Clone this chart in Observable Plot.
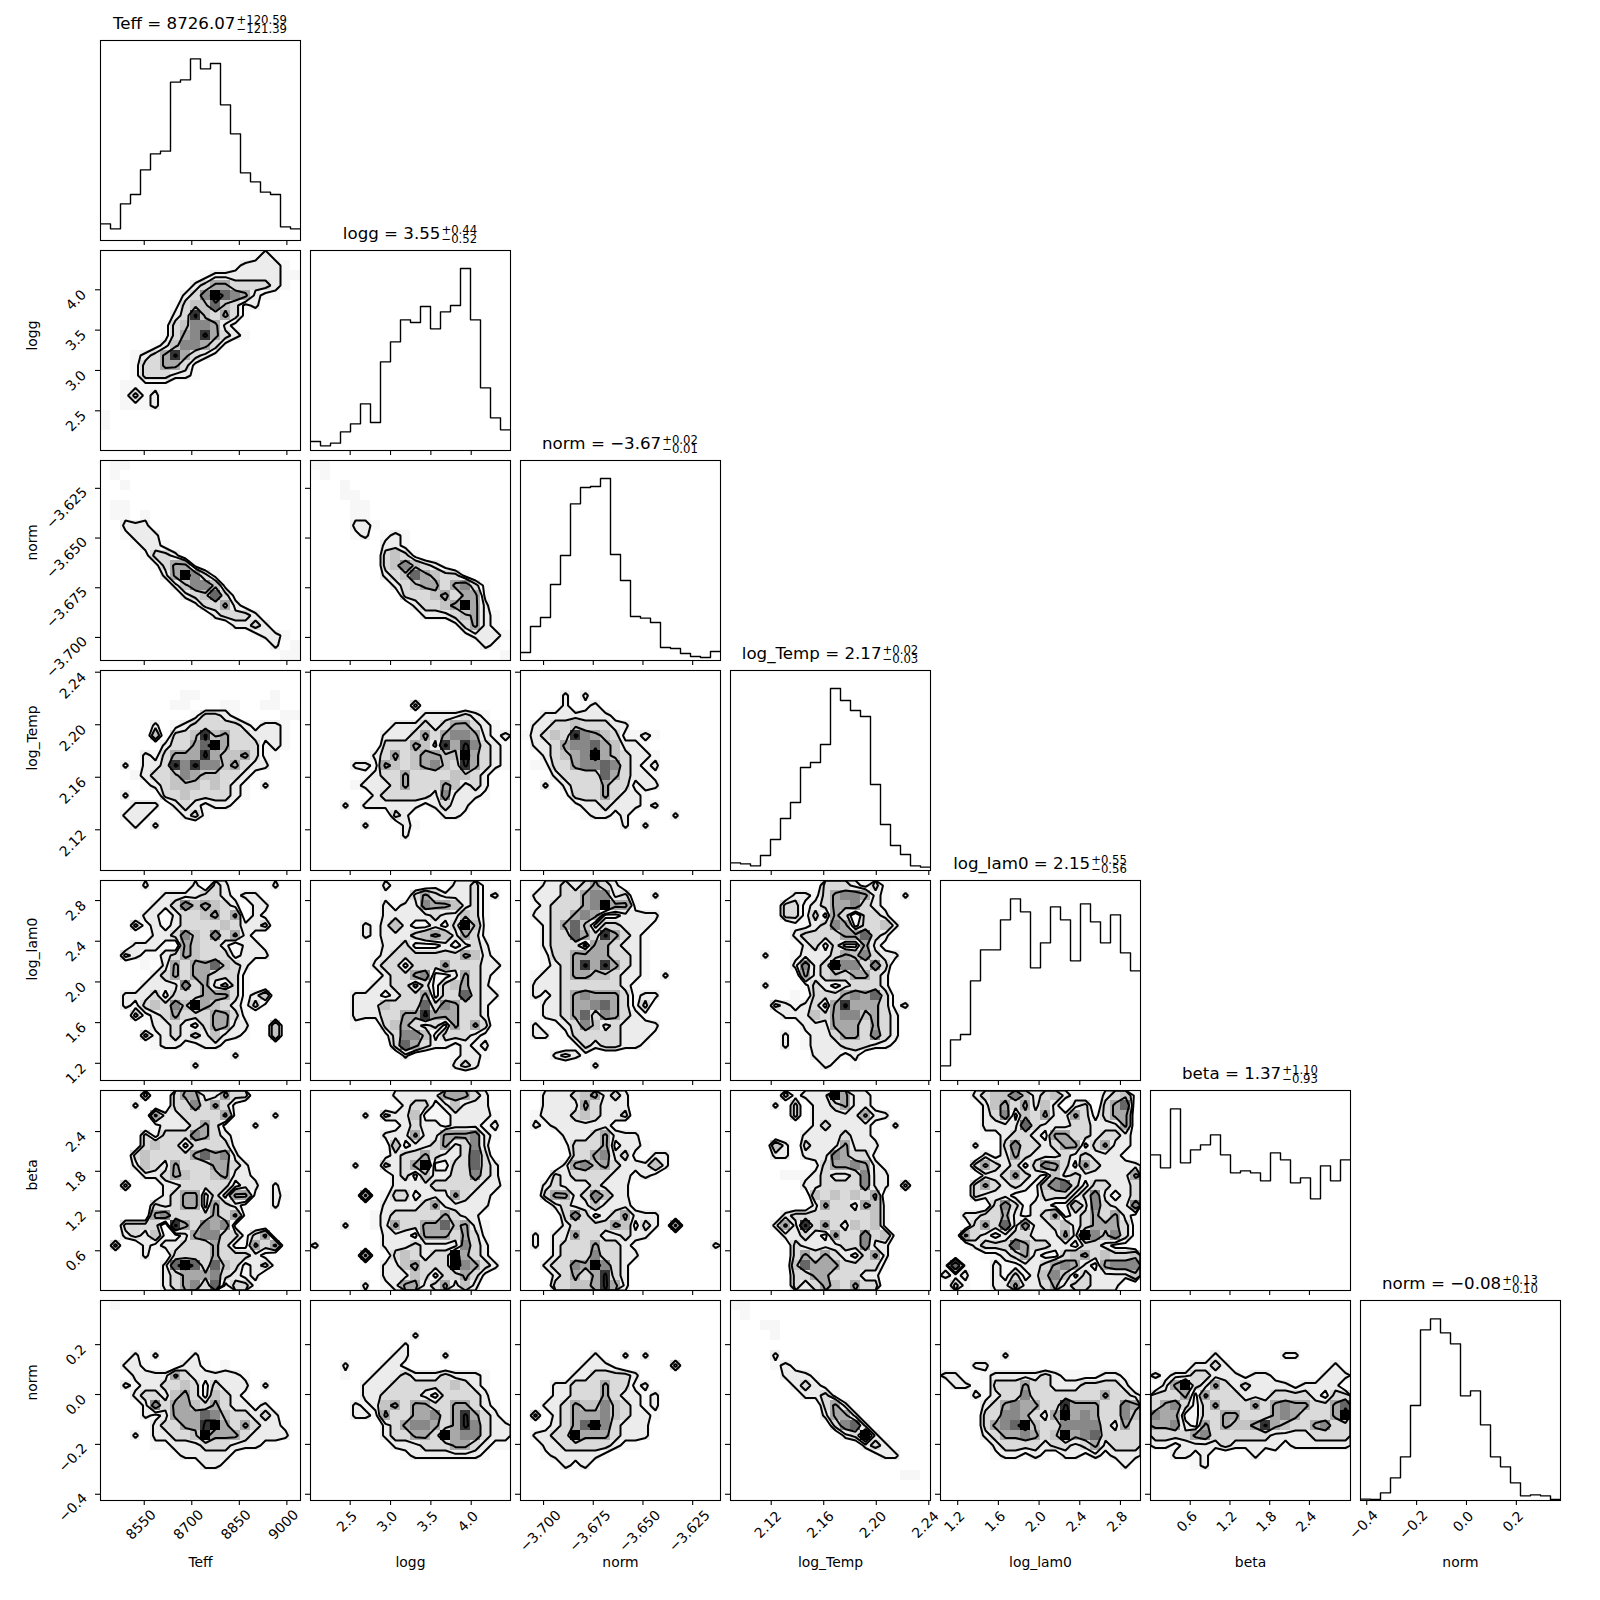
<!DOCTYPE html>
<html><head><meta charset="utf-8">
<script src="https://cdn.jsdelivr.net/npm/d3@7"></script>
<script src="https://cdn.jsdelivr.net/npm/@observablehq/plot@0.6"></script>
<style>
html,body{margin:0;padding:0;background:#fff}
#fig{position:relative;width:1600px;height:1600px;overflow:hidden;background:#fff;font-family:"DejaVu Sans",sans-serif;color:#000}
#fig svg{position:absolute;overflow:visible;max-width:none}
.ttl{position:absolute;width:200px;display:flex;justify-content:center;align-items:baseline;font-size:16.67px;line-height:20px;white-space:pre}
.ss{display:inline-flex;flex-direction:column;font-size:11.67px;line-height:9.2px;position:relative;top:-5.5px;margin-left:1px}
</style></head><body><div id="fig"></div>
<script>
// ---- parameters
const names=["Teff","logg","norm","log_Temp","log_lam0","beta","norm"];
const domains=[[8412,9043],[2.008,4.487],[-3.7116,-3.6110],[2.089,2.2413],[1.031,2.997],[0.0,3.02],[-0.425,0.377]];
const tickVals=[[8550,8700,8850,9000],[2.5,3,3.5,4],[-3.7,-3.675,-3.65,-3.625],[2.12,2.16,2.2,2.24],[1.2,1.6,2,2.4,2.8],[0.6,1.2,1.8,2.4],[-0.4,-0.2,0,0.2]];
const tickDec=[0,1,3,2,1,1,1];
const medians=["8726.07","3.55","−3.67","2.17","2.15","1.37","−0.08"];
const ups=["+120.59","+0.44","+0.02","+0.02","+0.55","+1.10","+0.13"];
const downs=["−121.39","−0.52","−0.01","−0.03","−0.56","−0.93","−0.10"];

// ---- 1D histograms (20 bins, arbitrary height units)
const histTeff=[50,35,110,138,212,260,268,475,482,545,515,531,407,320,203,176,145,138,41,35];
const histLogg=[27,14,22,56,80,140,84,266,326,392,384,432,365,416,435,546,392,188,98,62];
const histNorm=[24,102,129,228,315,470,519,522,546,318,240,132,127,114,39,36,21,12,9,27];
const histLogTemp=[23,20,14,45,93,156,204,309,324,378,546,510,480,462,258,138,75,48,14,10];
const histLogLam0=[44,122,138,299,392,392,482,545,506,338,413,521,482,359,530,476,413,497,383,329];
const histBeta=[407,368,545,383,422,437,467,407,353,359,353,329,413,392,323,338,275,374,329,392];
const histNorm2=[4,3,23,68,131,285,512,545,503,470,314,329,227,131,101,53,14,17,14,3];
const hists=[histTeff,histLogg,histNorm,histLogTemp,histLogLam0,histBeta,histNorm2];

// ---- 2D density grids (20x20 bins, top row first, levels 0-9)
const g10=["00000000000000012100","00000000000001222210","00000000001222222211","00000000023553333210","00000000236976521100","00000001344743120000","00000002384353100000","00000013466521000000","00000013568532100000","00000124665310000000","00012358532100000000","00013355310000000000","00013332210000000000","00111110000000000000","00131200000000000000","00111200000000000000","1","1"];
const g20=["011","01","001","","011","01101","00222","001222","00012210","00001332","00000135510","00000025963100000000","00000002466410000000","00000000234731000000","00000000013352100000","00000000000233320000","00000000000002232000","00000000000000012210","00000000000000000201","00000000000000000011"];
const g21=["11","01","0001","00011","000011","000011","00002210","0000120121","0000000221","00000003431","0000000"+"3464321","0000000"+"234754331","00000000"+"2345535631","000000000"+"333453551","0000000000"+"23345952","00000000000"+"22234521","00000000000000"+"13521","000000000000000"+"12221","00000000000000000"+"21","000000000000000000"+"01"];
const g30=["","","000000001100000001","000000011000110011","000000000"+"13321"+"0000"+"11","0000020123333321221","0000040334845332221","0000002335795333121","000021355585445311","0020"+"2238686645322","000"+"1233465443321","0000"+"1234443432102","002000"+"334333321","0002220"+"2321221","00222"+"000"+"231","000202","","","",""];
const g31=["","","","0000000000"+"3","00000000000"+"2222321","00000000"+"22232355321","0000000"+"2223535665212","0000000"+"3335428586321","000000"+"23534554495321","0000"+"2215434564385321","00000"+"1233533334432","0000"+"12223533354232","000000"+"233333262221","0002"+"0"+"22222212322","00000000"+"32"+"000"+"221","00000"+"2"+"000"+"21","000000000"+"2","","",""];
const g32=["","","0000202","00002012","0022222221","0"+"2233433322","12343865431121","0"+"223566754221","00"+"234569543221","0"+"1133566763212","000"+"23333753221","0020"+"2333533122","0000"+"133353221","00000"+"122322212","000000"+"12212"+"0000"+"2","0000000000202","","","",""];
const g40=["00002000020320000200","000000"+"2222332122","00000"+"223645432022","0000"+"2202334535021","000"+"31212333343223","00000"+"22364363521","000"+"22210543320221","00"+"321123543331222","0000"+"10253557432","00000"+"2353553331","0000"+"22226352131","00"+"222313335553124","00"+"213436495432131","000"+"312353335531","00000"+"2232135522"+"004","0000"+"31232324221004","00000"+"12211221","0000000000000"+"2","000000000"+"2",""];
const g41=["0000000"+"21"+"000"+"1"+"0"+"2231","0000000100"+"353222312","0000000"+"21226554231","0000000"+"22222322431","00000"+"2124211213941","00000"+"2122234542531","0000000"+"22311121232","000000"+"1233333335421","000000"+"23313335333221","0000000"+"233561125321","000000"+"223313134532","0000"+"222123351337322","0000"+"22243337365332","0000"+"22233558555332","0000"+"10034532315353","0000000"+"13664133321","00000000"+"3753221212","000000000"+"2"+"0000"+"1221","00000000000000"+"232",""];
const g42=["00"+"22323532","0"+"2223356623"+"00"+"2","0"+"12333569551","0"+"2233565112222","00"+"235741332221","00"+"23375385321","00"+"23331553221","00"+"13355553321","00"+"12358585321","0"+"12235544322102","0"+"22233333321","0"+"2123565553122","00"+"22355675313","00"+"22357365321","0"+"2012364232222","0"+"2201333332221","00000"+"13233221","000"+"2321","0000000"+"2",""];
const g43=["000000000"+"3332131","000000"+"221356652102","00000"+"33123556321","00000"+"33131530332","000000"+"11236513342","000000"+"2333355732","0000000"+"231311521","000200"+"12223546322","000000"+"2623966363","0000000"+"523435532","0002000"+"132123332","000000"+"10333565731","0000"+"32123158555312","00000"+"222435664532","0000000"+"2225553532","00000"+"201223553632","00000"+"201222333221","00000000"+"22212","000000000"+"2101",""];
const g50=["0000"+"30035522533","000"+"20003363531","00000"+"5223333510002","00000"+"12223531002","0000"+"3133365321","0000"+"3433133331","000"+"34333357562","000"+"243253335532","0000"+"223543345221","003000"+"223333312202","000000"+"2355131551021","00000"+"3235515321002","00000"+"5633335351","00"+"333308536561","00"+"232411256633135","0300"+"21223335311535","0000200"+"3333533321","000000"+"279737431231","000000"+"2355563212","000000"+"2356371331"];
const g51=["00000000"+"2222255532","000000000"+"233124222","00000"+"20"+"322411122221","00000000"+"12322122212","0000000"+"222522555621","00000000"+"4122352362","0000000"+"12335322373","0000200323591133732","00000000"+"23142233632","00000000"+"222233333221","00000"+"50133122253221","0000000"+"22223522222","000000"+"12333335322","000200"+"125335574521","0000000"+"22215553531","2000000"+"22232222632","00000500"+"3432339532","0000000"+"224533396532","0000000"+"22243133531","0000020"+"1255235242"];
const g52=["00"+"222345232","00"+"222253222","0"+"1222343223","0"+"212222221","0000"+"22235222","0000"+"133351221","00000"+"3356231022","0000"+"25645322242","000"+"32333322121","00"+"232223222","00"+"355236422","000"+"232242221","0000"+"3631235222","0000"+"233335413205","0"+"202253322322","0"+"20233353321"+"0000000"+"2","000"+"233363322","00"+"233659632","000"+"23535832","000"+"33445852"];
const g53=["00000"+"3122295221","0000"+"20302235221","000000"+"3022222522","00000000"+"232222102","0000000"+"22223221","0000"+"42032225222","0000"+"22022265331","00000000"+"13556521","00000"+"11123223622","0000000"+"22333362203","00000000"+"4343435","00000000"+"25332541","00000"+"23333333341","0000"+"252835324341","00000"+"223215336341","000000"+"3222233622","000000"+"3535321352","000000"+"4755533331","000000"+"335533322","000000"+"323543533"];
const g54=["000"+"23446423421002341","0000"+"2453524202303570","0000"+"236143522531355","0000"+"222273222332225","0000"+"1123321553323321","000"+"20036332355135221","0000"+"212532223232221","000"+"35323136531532222","0000"+"2235321423222225","000"+"35323214673133223","000"+"32221113331362123","00000"+"363122114263226","00"+"223352123512353521","000"+"35372622342355531","00"+"532123322252964631","000"+"2333753322133211","0000"+"1123521134534334","17100211223565215666","21200213124641322224","03100225223523322200"];
const g60=["01","","","","","000202000"+"2","00"+"22100022101","000"+"222253222221","00"+"212233431322202","000"+"233245314321","0000"+"2635543532212","0000"+"21255576433232","00000"+"23355895353221","000"+"2022334955532222","00000"+"1122233322211","0000000"+"1222221","0000000000"+"221","","",""];
const g61=["","","","0000000000"+"2","000000000"+"2","00000000"+"22"+"000"+"2","0002000"+"221","000"+"100222322232221","00000"+"2223333334321","00000"+"2233332133332","0000"+"212453553355321","0000"+"221533556358532","0000000"+"2356653586322","0000000"+"2335539566322","00000000"+"222333553211","000000000"+"122222221","","","",""];
const g62=["","","","","","0000000200"+"202","000000"+"2221"+"00000"+"3","00000"+"2233332","000"+"2233353312","000"+"22333532212","00"+"223544643212","0"+"3023555643221","00"+"12357963222","0"+"223395553222","00"+"2233333211","00"+"1222221","0000212","","",""];
const g63=["11","01","00011","00001","","00002","0000121","000002221","0000002321","00000002231","000000000"+"352","000000000"+"2552","0000000000"+"3672","00000000000"+"2392","0000000000000"+"232","00000000000000"+"122","","0000000000000000011","",""];
const g64=["","","","","","000000"+"2","00022","2200122222321111221","0221033353322233332","000"+"21233633333335332","0000"+"2356553385553365","0000"+"3366532595653364","0000"+"3567943366663253","0000"+"2355653495673333","00000"+"233332332352333","00000"+"122121022121222","000000000000000000"+"2","","",""];
const g65=["","","","","","0000002"+"000000"+"22","0000"+"2232"+"0000000000"+"2","21223322212210000222","02593253232222122220","33351533322233332133","35631353335356553357","65511335533356533359","55621535445854335633","33335633333322223333","22122223222221222222","00"+"2212"+"0000"+"2"+"0"+"1","000012","","",""];
const grids={"1,0":g10,"2,0":g20,"2,1":g21,"3,0":g30,"3,1":g31,"3,2":g32,"4,0":g40,"4,1":g41,"4,2":g42,"4,3":g43,"5,0":g50,"5,1":g51,"5,2":g52,"5,3":g53,"5,4":g54,"6,0":g60,"6,1":g61,"6,2":g62,"6,3":g63,"6,4":g64,"6,5":g65};
const greys=["#ffffff","#f7f7f7","#ececec","#dadada","#c4c4c4","#a8a8a8","#888888","#666666","#333333","#000000"];
const levels=[1.5,2.5,4.5,7.5];

// ---- drawing
const fig=document.getElementById("fig");
const S=200,STEP=210,L0=100,T0=40;
const CW=8.85;
const fmt=(k,v)=>v.toFixed(tickDec[k]).replace("-","−");
const ext=s=>0.354*(CW*(s.length-0.5)+10);
const font={fontFamily:"DejaVu Sans",fill:"black"};

function axes(r,c,diag){
  const out=[Plot.axisX(tickVals[c],{anchor:"bottom",tickSize:5,strokeWidth:1.1,text:null,label:null})];
  if(!diag) out.push(Plot.axisY(tickVals[r],{anchor:"left",tickSize:5,strokeWidth:1.1,text:null,label:null}));
  if(r===6){
    for(const v of tickVals[c]){const s=fmt(c,v);
      out.push(Plot.text([v],{x:d=>d,text:()=>s,frameAnchor:"bottom",rotate:-45,fontSize:13.9,...font,dy:13+ext(s),textAnchor:"middle"}));}
    out.push(Plot.text([names[c]],{text:d=>d,frameAnchor:"bottom",dy:66,fontSize:13.9,...font}));
  }
  if(c===0&&!diag){
    for(const v of tickVals[r]){const s=fmt(r,v);
      out.push(Plot.text([v],{y:d=>d,text:()=>s,frameAnchor:"left",rotate:-45,fontSize:13.9,...font,dx:-(13+ext(s)),dy:ext(s)-1,textAnchor:"middle"}));}
    out.push(Plot.text([names[r]],{text:d=>d,frameAnchor:"left",dx:-68,rotate:-90,fontSize:13.9,...font}));
  }
  return out;
}
function place(svg,r,c,ml,mt){
  svg.style.left=(L0+STEP*c-ml)+"px"; svg.style.top=(T0+STEP*r-mt)+"px";
  svg.style.background="transparent"; fig.appendChild(svg);
}
function histPanel(k){
  const [lo,hi]=domains[k],w=(hi-lo)/20,h=hists[k];
  const pts=h.map((v,i)=>({x:lo+i*w,y:v})); pts.push({x:hi,y:h[19]});
  const ml=6,mr=6,mt=2,mb=k===6?100:8;
  const svg=Plot.plot({width:S+ml+mr,height:S+mt+mb,marginLeft:ml,marginRight:mr,marginTop:mt,marginBottom:mb,
    x:{domain:domains[k],axis:null},y:{domain:[0,600],axis:null},style:{background:"transparent",overflow:"visible"},
    marks:[Plot.line(pts,{x:"x",y:"y",curve:"step-after",stroke:"black",strokeWidth:1.4,clip:true}),
      Plot.frame({stroke:"black",strokeWidth:1.1}),...axes(k,k,true)]});
  place(svg,k,k,ml,mt);
  const t=document.createElement("div");t.className="ttl";
  t.style.left=(L0+STEP*k)+"px";t.style.top=(T0+STEP*k-26)+"px";
  const a=document.createElement("span");a.textContent=names[k]+" = "+medians[k];
  const b=document.createElement("span");b.className="ss";
  const u=document.createElement("span");u.textContent=ups[k];
  const d=document.createElement("span");d.textContent=downs[k];
  b.append(u,d);t.append(a,b);fig.appendChild(t);
}
function densityPanel(r,c){
  const rows=grids[r+","+c];
  const [xl,xh]=domains[c],[yl,yh]=domains[r];
  const dx=(xh-xl)/20,dy=(yh-yl)/20,vals=[],cells=[];
  for(let j=0;j<20;j++){const s=(rows[j]||"").padEnd(20,"0");
    for(let i=0;i<20;i++){const v=+s[i];vals.push(v);
      if(v>0)cells.push({x1:xl+i*dx,x2:xl+(i+1)*dx,y1:yh-j*dy,y2:yh-(j+1)*dy,v});}}
  const ml=c===0?100:6,mr=6,mt=2,mb=r===6?100:8;
  const svg=Plot.plot({width:S+ml+mr,height:S+mt+mb,marginLeft:ml,marginRight:mr,marginTop:mt,marginBottom:mb,
    x:{domain:domains[c],axis:null},y:{domain:domains[r],axis:null},color:{type:"identity"},
    style:{background:"transparent",overflow:"visible"},
    marks:[Plot.rect(cells,{x1:"x1",x2:"x2",y1:"y1",y2:"y2",fill:d=>greys[d.v],shapeRendering:"crispEdges"}),
      Plot.contour(vals,{width:20,height:20,x1:xl,x2:xh,y1:yh,y2:yl,value:d=>d,thresholds:levels,stroke:"black",strokeWidth:2,fill:"none",clip:true}),
      Plot.frame({stroke:"black",strokeWidth:1.1}),...axes(r,c,false)]});
  place(svg,r,c,ml,mt);
}
for(let k=0;k<7;k++)histPanel(k);
for(let r=1;r<7;r++)for(let c=0;c<r;c++)densityPanel(r,c);
</script></body></html>
